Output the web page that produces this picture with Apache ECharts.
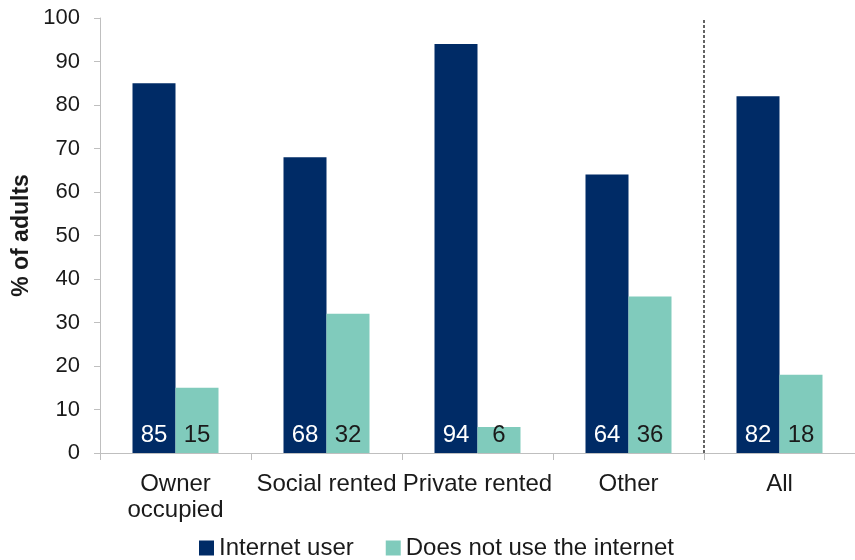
<!DOCTYPE html>
<html>
<head>
<meta charset="utf-8">
<script src="https://cdn.jsdelivr.net/npm/echarts@6/dist/echarts.min.js"></script>
<style>
  html, body { margin: 0; padding: 0; background: #fff; }
  #chart { width: 855px; height: 560px; }
</style>
</head>
<body>
<div id="chart"></div>
<script>
// Internet use by housing tenure (% of adults)
const categories = ['Owner\noccupied', 'Social rented', 'Private rented', 'Other', 'All'];
const internetUser = [85, 68, 94, 64, 82];
const nonUser = [15, 32, 6, 36, 18];
const yTicks = { min: 0, max: 100, interval: 10 };
const separatorAt = 4; // boundary before the "All" group

const FONT = 'Liberation Sans, Arial, sans-serif';
const navy = '#002B66';
const teal = '#80CBBC';
const ink = '#1a1a1a';

const chart = echarts.init(document.getElementById('chart'));
chart.setOption({
  animation: false,
  textStyle: { fontFamily: FONT },
  grid: { left: 100, top: 18, bottom: 107, width: 758 },
  legend: {
    top: 531,
    left: 194,
    itemWidth: 15,
    itemHeight: 15,
    itemGap: 32,
    icon: 'rect',
    textStyle: { fontSize: 24, color: ink, fontFamily: FONT },
    data: ['Internet user', 'Does not use the internet']
  },
  xAxis: [
    {
      type: 'category',
      data: categories,
      axisLine: { lineStyle: { color: '#bfbfbf', width: 1 } },
      axisTick: { show: true, length: 7, lineStyle: { color: '#bfbfbf' } },
      axisLabel: {
        interval: 0,
        fontSize: 24,
        lineHeight: 26,
        color: ink,
        margin: 18,
        fontFamily: FONT
      }
    },
    {
      type: 'value',
      min: 0,
      max: categories.length,
      show: false
    }
  ],
  yAxis: {
    type: 'value',
    min: yTicks.min,
    max: yTicks.max,
    interval: yTicks.interval,
    name: '% of adults',
    nameLocation: 'middle',
    nameGap: 67,
    nameMoveOverlap: false,
    nameRotate: 90,
    nameTextStyle: { fontSize: 23, fontWeight: 'bold', color: ink, fontFamily: FONT },
    axisLine: { show: true, lineStyle: { color: '#bfbfbf', width: 1 } },
    axisTick: { show: true, length: 6, lineStyle: { color: '#bfbfbf' } },
    axisLabel: { fontSize: 22, color: ink, margin: 20, fontFamily: FONT },
    splitLine: { show: false }
  },
  series: [
    {
      name: 'Internet user',
      type: 'bar',
      data: internetUser,
      barWidth: 43,
      barGap: '0%',
      itemStyle: { color: navy },
      label: {
        show: true,
        position: 'insideBottom',
        distance: 6,
        fontSize: 24,
        color: '#ffffff',
        fontFamily: FONT
      }
    },
    {
      name: 'Does not use the internet',
      type: 'bar',
      data: nonUser,
      barWidth: 43,
      barGap: '0%',
      itemStyle: { color: teal },
      label: {
        show: true,
        position: 'insideBottom',
        distance: 6,
        fontSize: 24,
        color: ink,
        fontFamily: FONT
      }
    },
    {
      // dashed separator between the tenure groups and the overall total
      type: 'line',
      xAxisIndex: 1,
      data: [],
      silent: true,
      markLine: {
        silent: true,
        symbol: 'none',
        label: { show: false },
        lineStyle: { color: '#303030', type: [3, 2], width: 1.5 },
        data: [{ xAxis: separatorAt }]
      }
    }
  ]
});
</script>
</body>
</html>
